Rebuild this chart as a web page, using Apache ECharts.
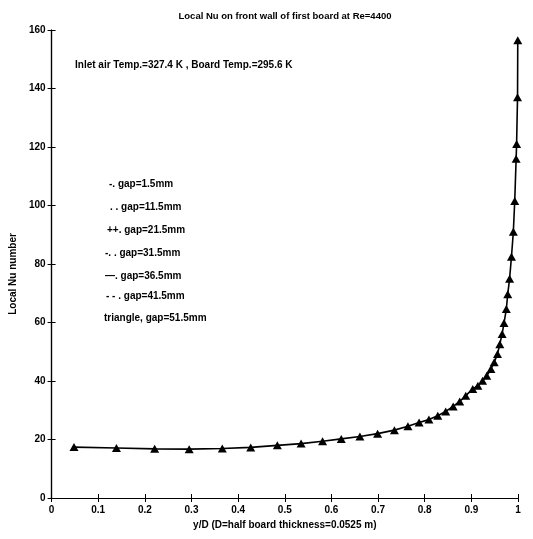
<!DOCTYPE html>
<html>
<head>
<meta charset="utf-8">
<script src="https://cdn.jsdelivr.net/npm/echarts@6/dist/echarts.min.js"></script>
<style>html,body{margin:0;padding:0;background:#fff;}#c{width:533px;height:539px;}</style>
</head>
<body>
<div id="c"></div>
<script>
// Data (triangle series, gap=51.5mm)
var yOverD = [0.048, 0.139, 0.221, 0.295, 0.366, 0.427, 0.484, 0.535, 0.581, 0.621,
  0.661, 0.699, 0.735, 0.764, 0.788, 0.809, 0.828, 0.845, 0.861, 0.875,
  0.888, 0.903, 0.914, 0.924, 0.933, 0.942, 0.949, 0.956, 0.961, 0.966,
  0.970, 0.975, 0.978, 0.982, 0.986, 0.990, 0.993, 0.996, 0.997, 0.999, 0.9995];
var localNu = [17.4, 17.1, 16.8, 16.7, 16.9, 17.3, 18.0, 18.6, 19.4, 20.2,
  21.0, 22.0, 23.2, 24.5, 25.8, 26.8, 28.1, 29.6, 31.3, 33.0,
  35.0, 37.3, 38.4, 40.1, 41.8, 44.1, 46.4, 49.2, 52.6, 56.1,
  59.8, 64.6, 69.7, 75.0, 82.5, 91.0, 101.5, 116.0, 121.0, 137.0, 156.5];
var legendLines = ["-. gap=1.5mm", ". . gap=11.5mm", "++. gap=21.5mm", "-. . gap=31.5mm",
  "\u2014. gap=36.5mm", "- - . gap=41.5mm", "triangle, gap=51.5mm"];
var titleText = "Local Nu on front wall of first board at Re=4400";
var noteText = "Inlet air Temp.=327.4 K , Board Temp.=295.6 K";
var xName = "y/D (D=half board thickness=0.0525 m)";
var yName = "Local Nu number";

var FONT = "Liberation Sans";
var pts = yOverD.map(function (x, i) { return [x, localNu[i]]; });

var chart = echarts.init(document.getElementById('c'), null, {renderer: 'canvas'});
var tickStyle = {show: true, inside: true, length: 4, lineStyle: {color: '#000', width: 1}};
var lineStyle = {show: true, lineStyle: {color: '#000', width: 1.2}};
var lab = {color: '#000', fontFamily: FONT, fontWeight: 'bold', fontSize: 10};

var graphics = [{
  type: 'text', left: 75, top: 60,
  style: {text: noteText, fill: '#000', font: 'bold 10px ' + FONT}
}];
var legendX = [109, 110, 107, 105, 105, 106, 104];
var legendY = [179, 202, 225, 248, 271, 291, 313];
legendLines.forEach(function (t, i) {
  graphics.push({type: 'text', left: legendX[i], top: legendY[i],
    style: {text: t, fill: '#000', font: 'bold 10px ' + FONT}});
});

chart.setOption({
  animation: false,
  backgroundColor: '#fff',
  title: {
    text: titleText, left: 280, top: 6, textAlign: 'center',
    textStyle: {color: '#000', fontFamily: FONT, fontWeight: 'bold', fontSize: 9.5}
  },
  grid: {left: 43, right: 15, top: 30, bottom: 41, containLabel: false},
  xAxis: [{
    type: 'value', min: 0, max: 1, interval: 0.1, position: 'bottom',
    axisLine: lineStyle, axisTick: tickStyle, splitLine: {show: false},
    axisLabel: Object.assign({margin: 7}, lab),
    name: xName, nameLocation: 'middle', nameGap: 20,
    nameTextStyle: lab
  }, {
    type: 'value', min: 0, max: 1, interval: 0.1, position: 'top',
    axisLine: lineStyle, axisTick: tickStyle, splitLine: {show: false},
    axisLabel: {show: false}
  }],
  yAxis: [{
    type: 'value', min: 0, max: 160, interval: 20, position: 'left',
    axisLine: lineStyle, axisTick: tickStyle, splitLine: {show: false},
    axisLabel: Object.assign({margin: 6}, lab),
    name: yName, nameLocation: 'middle', nameGap: 25,
    nameTextStyle: Object.assign({padding: [0, 20, 0, 0]}, lab)
  }, {
    type: 'value', min: 0, max: 160, interval: 20, position: 'right',
    axisLine: lineStyle, axisTick: tickStyle, splitLine: {show: false},
    axisLabel: {show: false}
  }],
  series: [{
    type: 'line', xAxisIndex: 0, yAxisIndex: 0,
    data: pts, symbol: 'triangle', symbolSize: [9, 8],
    itemStyle: {color: '#000'},
    lineStyle: {color: '#000', width: 1.6},
    showSymbol: true
  }],
  graphic: graphics
});
</script>
</body>
</html>
